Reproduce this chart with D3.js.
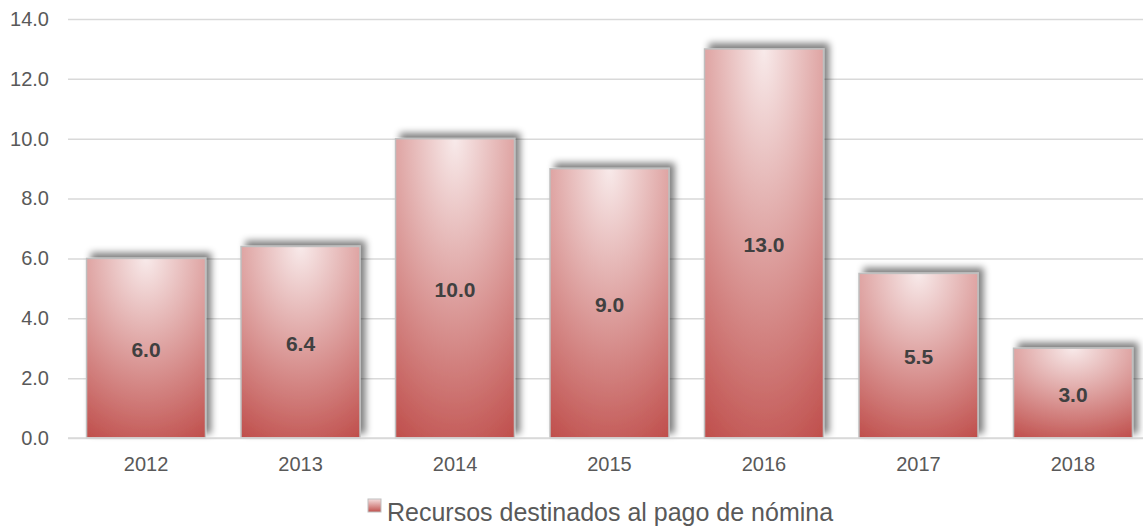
<!DOCTYPE html>
<html><head><meta charset="utf-8">
<script src="https://cdn.jsdelivr.net/npm/d3@7"></script>
<style>body{margin:0;background:#fff;}svg{display:block;font-family:"Liberation Sans",Arial,sans-serif;}</style>
</head><body>
<svg id="c" width="1143" height="527"></svg>
<script>
const categories = ["2012","2013","2014","2015","2016","2017","2018"];
const values = [6.0, 6.4, 10.0, 9.0, 13.0, 5.5, 3.0];
const yTicks = [0,2,4,6,8,10,12,14];
const seriesName = "Recursos destinados al pago de nómina";

(function(){
const svg = d3.select("#c");
const pLeft = 68, pRight = 1143, pTop = 19, pBottom = 438;
const x = d3.scaleBand().domain(categories).range([pLeft, 1151]).paddingInner(0.23).paddingOuter(0.12);
const y = d3.scaleLinear().domain([0,14]).range([pBottom, pTop]);

const defs = svg.append("defs");
const g = defs.append("radialGradient").attr("id","grad")
  .attr("cx","0.5").attr("cy","0").attr("r","1.1").attr("fx","0.5").attr("fy","0");
g.append("stop").attr("offset","0%").attr("stop-color","#f8eaea");
g.append("stop").attr("offset","100%").attr("stop-color","#c0504d");
const f = defs.append("filter").attr("id","sh").attr("x","-20%").attr("y","-20%").attr("width","140%").attr("height","140%");
f.append("feGaussianBlur").attr("in","SourceAlpha").attr("stdDeviation","3.5");
f.append("feOffset").attr("dx","5").attr("dy","-5").attr("result","o");
f.append("feComponentTransfer").append("feFuncA").attr("type","linear").attr("slope","0.5");
const m = f.append("feMerge"); m.append("feMergeNode"); m.append("feMergeNode").attr("in","SourceGraphic");
const lg = defs.append("linearGradient").attr("id","lgrad").attr("x1","0").attr("y1","0").attr("x2","0").attr("y2","1");
lg.append("stop").attr("offset","0%").attr("stop-color","#f5dede");
lg.append("stop").attr("offset","100%").attr("stop-color","#c0504d");

const yAxis = d3.axisLeft(y).tickValues(yTicks).tickFormat(d3.format(".1f")).tickSize(-(pRight-pLeft)).tickPadding(19);
const ga = svg.append("g").attr("transform",`translate(${pLeft},0)`).call(yAxis);
ga.select(".domain").remove();
ga.selectAll(".tick line").attr("stroke","#d9d9d9").attr("stroke-width",1.5);
ga.selectAll(".tick text").attr("fill","#595959").attr("font-size","20px").attr("font-family","Liberation Sans, Arial, sans-serif");

svg.append("g").selectAll("rect").data(values).join("rect")
  .attr("x",(d,i)=>x(categories[i]))
  .attr("y",d=>y(d))
  .attr("width",x.bandwidth())
  .attr("height",d=>y(0)-y(d))
  .attr("fill","url(#grad)")
  .attr("stroke","#bfbfbf").attr("stroke-width",1.5)
  .attr("filter","url(#sh)");

svg.append("g").selectAll("text").data(values).join("text")
  .attr("x",(d,i)=>x(categories[i])+x.bandwidth()/2)
  .attr("y",d=>(y(d)+y(0))/2)
  .attr("dy","0.4em").attr("text-anchor","middle")
  .attr("font-size","21px").attr("font-weight","bold").attr("fill","#404040")
  .text(d=>d3.format(".1f")(d));

const xAxis = d3.axisBottom(x).tickSize(0).tickPadding(19);
const gx = svg.append("g").attr("transform",`translate(0,${pBottom})`).call(xAxis);
gx.select(".domain").remove();
svg.append("line").attr("x1",pLeft).attr("x2",pRight).attr("y1",pBottom).attr("y2",pBottom)
  .attr("stroke","#d9d9d9").attr("stroke-width",1.5);
gx.selectAll(".tick text").attr("fill","#595959").attr("font-size","20px").attr("font-family","Liberation Sans, Arial, sans-serif");

svg.append("text").attr("x",387).attr("y",521)
  .attr("font-size","25px").attr("fill","#595959").text(seriesName);
svg.append("rect").attr("x",368).attr("y",499).attr("width",13).attr("height",13)
  .attr("fill","url(#lgrad)").attr("stroke","#bfbfbf").attr("stroke-width",1);
})();
</script>
</body></html>
